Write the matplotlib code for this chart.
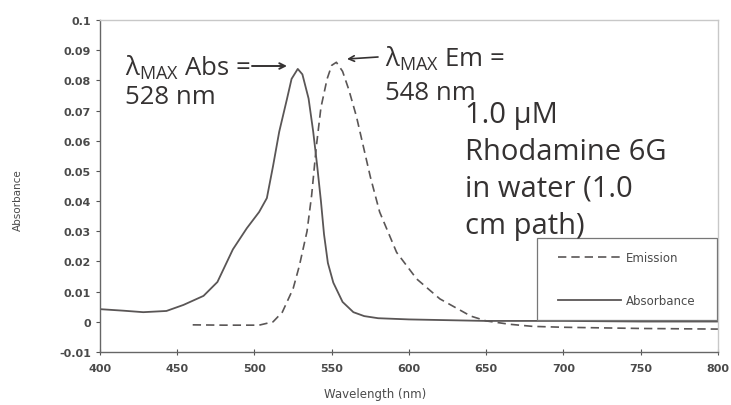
import numpy as np
import matplotlib.pyplot as plt
from matplotlib.patches import Rectangle

# absorbance spectrum (solid)
abs_wl = [400, 415, 428, 443, 454, 467, 476, 486, 495, 503, 508, 512, 516, 521, 524,
          528, 531, 535, 538, 540.5, 543, 545, 547.5, 551, 557, 564, 571, 580, 600, 650,
          700, 750, 800]
abs_val = [0.0042, 0.0037, 0.0032, 0.0036, 0.0056, 0.0086, 0.0132, 0.024, 0.031, 0.0364,
           0.041, 0.0516, 0.063, 0.0738, 0.0805, 0.0838, 0.082, 0.074, 0.063, 0.052, 0.040,
           0.029, 0.0195, 0.013, 0.0066, 0.0032, 0.0019, 0.0012, 0.0008, 0.0003, 0.0003,
           0.0001, 0.0001]

# emission spectrum (dashed)
em_wl = [460, 480, 503, 512, 518, 525, 529, 534, 537, 540, 543, 547, 550, 553, 557, 561,
         566, 575, 581, 592, 605, 620, 640, 650, 665, 680, 700, 750, 800]
em_val = [-0.001, -0.0011, -0.0011, 0.0, 0.0032, 0.011, 0.0185, 0.03, 0.042, 0.058, 0.071,
          0.0805, 0.085, 0.086, 0.083, 0.077, 0.068, 0.048, 0.0364, 0.023, 0.0142, 0.0076,
          0.0019, 0.0003, -0.0008, -0.0015, -0.0018, -0.0022, -0.0024]

xticks = [400, 450, 500, 550, 600, 650, 700, 750, 800]
yticks = [-0.01, 0, 0.01, 0.02, 0.03, 0.04, 0.05, 0.06, 0.07, 0.08, 0.09, 0.1]
ytick_labels = ['-0.01', '0', '0.01', '0.02', '0.03', '0.04', '0.05', '0.06', '0.07',
                '0.08', '0.09', '0.1']

plt.rcParams['mathtext.fontset'] = 'custom'
plt.rcParams['mathtext.rm'] = 'Open Sans'
plt.rcParams['mathtext.it'] = 'Open Sans'

line_col = '#5a5656'
txt_col = '#353232'
left_txt = dict(family=['Open Sans', 'DejaVu Sans'], fontsize=18.5, color=txt_col)
right_txt = dict(family=['Open Sans', 'DejaVu Sans'], fontsize=21, color=txt_col)

fig = plt.figure(figsize=(7.31, 4.06), dpi=100)
ax = fig.add_axes([0.1368, 0.1305, 0.8454, 0.8177])

ax.plot(em_wl, em_val, ls=(0, (5, 3)), color=line_col, lw=1.2, label='Emission')
ax.plot(abs_wl, abs_val, ls='-', color=line_col, lw=1.3, label='Absorbance')

ax.set_xlim(400, 800)
ax.set_ylim(-0.01, 0.1)
ax.set_xticks(xticks)
ax.set_yticks(yticks)
ax.set_yticklabels(ytick_labels)
ax.tick_params(labelsize=8, colors='#555555', length=3, labelcolor='#4a4a4a')
for lab in ax.get_xticklabels() + ax.get_yticklabels():
    lab.set_fontweight('bold')
ax.tick_params(axis='x', pad=6, direction='inout', length=4)

for s in ['left', 'bottom']:
    ax.spines[s].set_color('#666666')
    ax.spines[s].set_linewidth(1.0)
for s in ['top', 'right']:
    ax.spines[s].set_color('#c8c8c8')
    ax.spines[s].set_linewidth(1.0)
    ax.spines[s].set_linestyle((0, (2, 1)))

ax.set_xlabel('Wavelength (nm)', fontsize=8.5, color='#4a4a4a')
ax.set_ylabel('Absorbance', fontsize=7.5, color='#4a4a4a')
ax.xaxis.set_label_coords(0.445, -0.105)
ax.yaxis.set_label_coords(-0.125, 0.46)

# legend with a fixed box
ax.add_patch(Rectangle((0.707, 0.096), 0.291, 0.247, transform=ax.transAxes,
                       fill=False, edgecolor='#777777', lw=0.9, zorder=3))
leg = ax.legend(loc='center', bbox_to_anchor=(0.707, 0.096, 0.291, 0.247),
                frameon=False, fontsize=8.5, labelspacing=2.6, handlelength=5.3,
                handletextpad=0.4, labelcolor='#4a4a4a')

# annotations, positions given in pixels from the top-left corner
def label(x, y, s, style):
    ax.text(x, 406 - y, s, transform=None, **style)

label(125, 76, r'$\mathrm{\lambda}_{\mathrm{MAX}}$ Abs =', left_txt)
label(125, 104, '528 nm', left_txt)
label(385, 67, r'$\mathrm{\lambda}_{\mathrm{MAX}}$ Em =', left_txt)
label(385, 100, '548 nm', left_txt)
info = ['1.0 \u00b5M', 'Rhodamine 6G', 'in water (1.0', 'cm path)']
for i, t in enumerate(info):
    label(465, 123 + 37 * i, t, right_txt)

ax.annotate('', xy=(287, 406 - 67), xytext=(252, 406 - 67), xycoords='figure pixels',
            textcoords='figure pixels',
            arrowprops=dict(arrowstyle='->', color=txt_col, lw=1.4, shrinkA=0, shrinkB=0))
ax.annotate('', xy=(347, 406 - 60), xytext=(378, 406 - 58), xycoords='figure pixels',
            textcoords='figure pixels',
            arrowprops=dict(arrowstyle='->', color=txt_col, lw=1.2, shrinkA=0, shrinkB=0))

fig.savefig('out.png', dpi=100)
